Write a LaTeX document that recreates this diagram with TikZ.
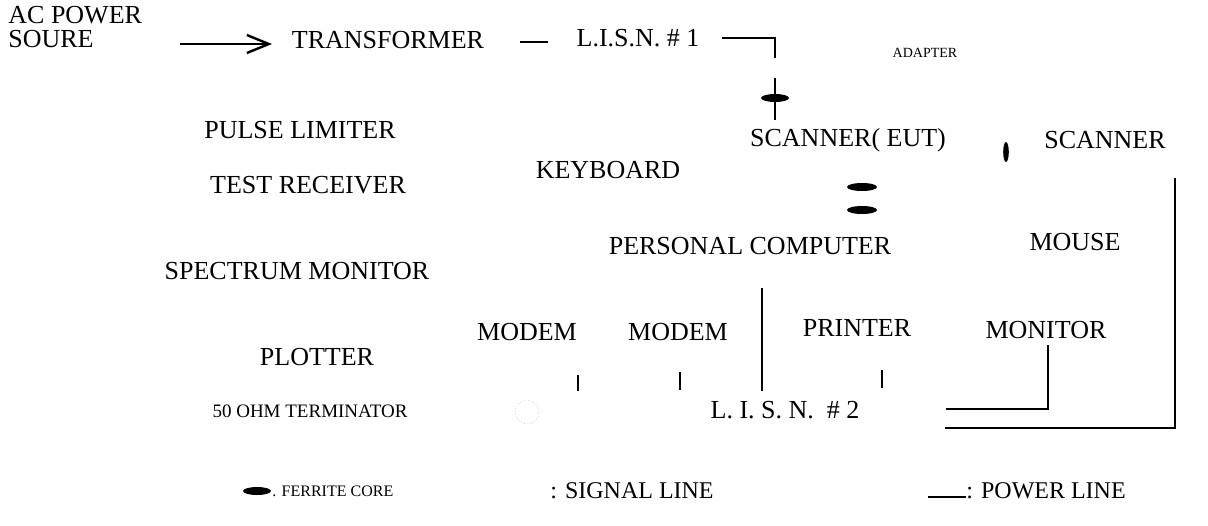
\documentclass[tikz,border=0pt]{standalone}
\usepackage{fontspec}
\setmainfont{Liberation Serif}
\usetikzlibrary{arrows.meta}
\tikzset{
  lbl/.style={inner sep=0pt, font=\fontsize{13}{15}\selectfont},
  adapterlbl/.style={inner sep=0pt, font=\fontsize{7}{8}\selectfont},
  termlbl/.style={inner sep=0pt, font=\fontsize{9.5}{11}\selectfont},
  keylbl/.style={inner sep=0pt, font=\fontsize{12}{14}\selectfont},
  pwr/.style={line width=1.2pt},
  ferrite/.style={fill=black},
}
\begin{document}
\begin{tikzpicture}[x=0.5pt,y=-0.5pt]
    \useasboundingbox (0,0) rectangle (1208,525);
    % equipment
    \node[lbl,anchor=west] (acp) at (8,15) {AC POWER};
    \node[lbl,anchor=west] (acpB) at (8,39) {SOURE};
    \node[lbl] (trans) at (388,40) {TRANSFORMER};
    \node[lbl] (lisnA) at (638,38) {L.I.S.N. \# 1};
    \node[adapterlbl] (adapt) at (925,53) {ADAPTER};
    \node[lbl] (pulse) at (300,130) {PULSE LIMITER};
    \node[lbl] (eut) at (848,140) {SCANNER( EUT)};
    \node[lbl] (scan) at (1105,140) {SCANNER};
    \node[lbl] (kbd) at (608,170) {KEYBOARD};
    \node[lbl] (rcv) at (308,185) {TEST RECEIVER};
    \node[lbl] (pc) at (750,246) {PERSONAL COMPUTER};
    \node[lbl] (mouse) at (1075,242) {MOUSE};
    \node[lbl] (spec) at (297,271) {SPECTRUM MONITOR};
    \node[lbl] (modemA) at (527,332) {MODEM};
    \node[lbl] (modemB) at (678,332) {MODEM};
    \node[lbl] (prn) at (857,328) {PRINTER};
    \node[lbl] (mon) at (1046,330) {MONITOR};
    \node[lbl] (plot) at (317,357) {PLOTTER};
    \node[lbl] (lisnB) at (785,410) {L. I. S. N. \ \# 2};
    \node[termlbl] (term) at (310,411) {50 OHM TERMINATOR};
    % line ends
    \coordinate (arrS) at (180,44);
    \coordinate (arrE) at (272,44);
    \coordinate (adpA) at (775,58);
    \coordinate (adpB) at (775,78);
    \coordinate (eutT) at (775,120);
    \coordinate (pcB) at (762,288);
    \coordinate (lisnT) at (762,391);
    \coordinate (monB) at (1048,345);
    \coordinate (scanB) at (1175,178);
    % power lines
    \draw[pwr,-{Straight Barb[length=11pt,width=9pt]}] (arrS) -- (arrE);
    \draw[pwr] (520,42) -- (548,42);
    \draw[pwr] (722,38) -| (adpA);
    \draw[pwr] (adpB) -- (eutT);
    \draw[pwr] (pcB) -- (lisnT);
    \draw[pwr] (578,375) -- (578,391);
    \draw[pwr] (680,372) -- (680,390);
    \draw[pwr] (882,370) -- (882,388);
    \draw[pwr] (monB) |- (946,409);
    \draw[pwr] (scanB) |- (945,428);
    % ferrite cores
    \fill[ferrite] (775,98) ellipse (7pt and 2pt);
    \fill[ferrite] (862,187) ellipse (7.5pt and 2pt);
    \fill[ferrite] (862,210) ellipse (7.5pt and 2pt);
    \fill[ferrite] (1006,152) ellipse (1.4pt and 5pt);
    % terminator
    \draw[gray!35,densely dotted] (527,412) circle (6pt);
    % legend
    \fill[ferrite] (257,491) ellipse (7pt and 2pt);
    \node[adapterlbl,font=\fontsize{8}{9}\selectfont,anchor=west] (keyF) at (272,491) {. FERRITE CORE};
    \node[keylbl] (keyS) at (632,491) {: SIGNAL LINE};
    \node[keylbl,anchor=west] (keyP) at (966,491) {: POWER LINE};
    \draw[pwr] (928,497) -- (keyP.west |- 0,497);
\end{tikzpicture}
\end{document}
